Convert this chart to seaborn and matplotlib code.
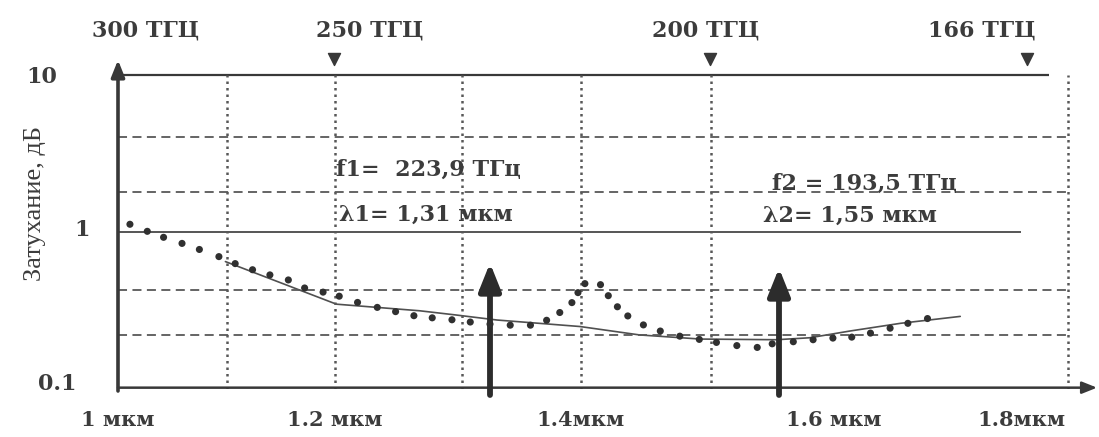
import numpy as np
import matplotlib
matplotlib.use("Agg")
import matplotlib.pyplot as plt
from matplotlib.ticker import NullLocator
import seaborn as sns

# ---------------- data ----------------
meas_wl = [1.011, 1.027, 1.042, 1.059, 1.075, 1.093, 1.108, 1.124, 1.140, 1.157,
           1.172, 1.189, 1.203, 1.216, 1.230, 1.243, 1.256, 1.269, 1.283, 1.296,
           1.310, 1.330, 1.350, 1.366, 1.379, 1.391, 1.397, 1.403, 1.415, 1.421,
           1.428, 1.436, 1.448, 1.461, 1.476, 1.491, 1.504, 1.519, 1.534, 1.545,
           1.563, 1.581, 1.599, 1.619, 1.639, 1.660, 1.679, 1.700]
meas_db = [1.12, 1.01, 0.925, 0.846, 0.774, 0.697, 0.629, 0.575, 0.533, 0.495,
           0.440, 0.414, 0.390, 0.356, 0.331, 0.311, 0.293, 0.284, 0.276, 0.267,
           0.259, 0.255, 0.255, 0.274, 0.307, 0.355, 0.411, 0.469, 0.462, 0.393,
           0.334, 0.292, 0.256, 0.234, 0.217, 0.207, 0.198, 0.189, 0.184, 0.194,
           0.200, 0.206, 0.211, 0.214, 0.227, 0.244, 0.262, 0.281]

fit_wl = [1.099, 1.201, 1.260, 1.286, 1.317, 1.399, 1.445, 1.492, 1.548,
          1.578, 1.617, 1.671, 1.735]
fit_db = [0.648, 0.347, 0.315, 0.296, 0.275, 0.250, 0.221, 0.208, 0.206,
          0.212, 0.234, 0.262, 0.290]

sel_wl = [1.31, 1.55]
sel_top_db = [0.635, 0.59]
sel_f_labels = ["f1=  223,9 ТГц", "f2 = 193,5 ТГц"]
sel_l_labels = ["λ1= 1,31 мкм", "λ2= 1,55 мкм"]

freq_thz = [300, 250, 200, 166]
freq_labels = ["300 ТГЦ", "250 ТГЦ", "200 ТГЦ", "166 ТГЦ"]

wl_ticks = [1.0, 1.2, 1.4, 1.6, 1.8]
wl_tick_labels = ["1 мкм", "1.2 мкм", "1.4мкм", "1.6 мкм", "1.8мкм"]
db_ticks = [10, 1, 0.1]
db_tick_labels = ["10", "1", "0.1"]

grid_wl = [1.1, 1.2, 1.29, 1.4, 1.5, 1.85]
grid_db_dashed = [4.0, 1.8, 0.43, 0.22]
y_label = "Затухание, дБ"

# ---------------- layout / style ----------------
# hand-drawn (non-linear) wavelength axis: anchor wavelengths -> pixel positions
LAM_ANCHOR = np.array([0.5, 1.0, 1.2, 1.31, 1.4, 1.5, 1.55, 1.6, 1.8, 2.5])
PX_ANCHOR = np.array([-424.5, 118, 335, 490, 581, 711, 779, 834, 1021, 1675.5])


def fwd(x):
    return np.interp(np.asarray(x, dtype=float), LAM_ANCHOR, PX_ANCHOR)


def inv(p):
    return np.interp(np.asarray(p, dtype=float), PX_ANCHOR, LAM_ANCHOR)


INK = "#383838"
GRID = "#585858"
TXT = "#3c3c3c"
FS = 16

sns.set_theme(style="white")
plt.rcParams["font.family"] = ["DejaVu Serif", "DejaVu Sans"]

W, H = 1099, 437
fig = plt.figure(figsize=(W / 100, H / 100), dpi=100)
ax = fig.add_axes([118 / W, (H - 389) / H, (W - 118) / W, 334 / H])
ax.set_xscale("function", functions=(fwd, inv))
ax.set_yscale("log")

# curves
sns.lineplot(x=fit_wl, y=fit_db, ax=ax, color="#505050", lw=1.2, sort=False)
sns.scatterplot(x=meas_wl, y=meas_db, ax=ax, color="#303030", s=26,
                edgecolor="none", zorder=4)

ax.set_xlim(1.0, float(inv(W)))
ax.set_ylim(0.1, 10 ** (-1 + 334 / 157))

# frame lines
ax.hlines(10, 1.0, 1.83, color=INK, lw=1.6)
ax.hlines(1, 1.0, 1.80, color=INK, lw=1.2)
ax.hlines(grid_db_dashed, 1.0, 1.85, colors=GRID, lw=1.3, linestyles=(0, (5, 3)))
ax.vlines(grid_wl, 0.1, 10, colors=GRID, lw=1.8, linestyles=(0, (1, 1.6)))

# axes with arrows
ax.annotate("", xy=(0, 0.985), xytext=(0, -0.006), xycoords="axes fraction",
            arrowprops=dict(arrowstyle="-|>,head_length=0.5,head_width=0.2",
                            mutation_scale=20, lw=2.6, color=INK,
                            shrinkA=0, shrinkB=0))
ax.annotate("", xy=(0.998, 0.004), xytext=(0, 0.004), xycoords="axes fraction",
            arrowprops=dict(arrowstyle="-|>,head_length=0.5,head_width=0.2",
                            mutation_scale=18, lw=1.8, color=INK,
                            shrinkA=0, shrinkB=0))

# selected wavelength arrows and labels
f_off = [(-62, 62), (85, 48)]
l_off = [(-64, 17), (71, 16)]
for wl, top, fl, ll, fo, lo in zip(sel_wl, sel_top_db, sel_f_labels,
                                   sel_l_labels, f_off, l_off):
    ax.annotate("", xy=(wl, top), xytext=(wl, 0.0916),
                arrowprops=dict(arrowstyle="-|>,head_length=0.75,head_width=0.3",
                                mutation_scale=22, lw=4.2, color="#2c2c2c",
                                shrinkA=0, shrinkB=0))
    ax.annotate(fl, xy=(wl, 1), xytext=fo, textcoords="offset pixels",
                ha="center", va="center", fontsize=FS, fontweight="bold",
                color=TXT)
    ax.annotate(ll, xy=(wl, 1), xytext=lo, textcoords="offset pixels",
                ha="center", va="center", fontsize=FS, fontweight="bold",
                color=TXT)

# frequency scale on top
freq_wl = [299.792458 / f for f in freq_thz]
ax.scatter(freq_wl[1:], [12.6] * 3, marker="v", s=75, color=INK,
           clip_on=False, zorder=5)
freq_dx = [28, 36, -4, -45]
for wl, lab, dx in zip(freq_wl, freq_labels, freq_dx):
    ax.annotate(lab, xy=(wl, 1.072), xycoords=("data", "axes fraction"),
                xytext=(dx, 0), textcoords="offset pixels", ha="center",
                va="center", fontsize=FS, fontweight="bold", color=TXT,
                annotation_clip=False)

# attenuation labels
db_off = [(-76, -2), (-36, 2), (-61, 5)]
for v, lab, (dx, dy) in zip(db_ticks, db_tick_labels, db_off):
    ax.annotate(lab, xy=(0, v), xycoords=("axes fraction", "data"),
                xytext=(dx, dy), textcoords="offset pixels", ha="center",
                va="center", fontsize=FS, fontweight="bold", color=TXT,
                annotation_clip=False)

ax.set_yticks([])
ax.yaxis.set_minor_locator(NullLocator())
ax.set_xticks(wl_ticks, wl_tick_labels)
ax.xaxis.set_minor_locator(NullLocator())
ax.tick_params(axis="x", length=0, pad=15, labelsize=15, colors=TXT)
for lbl in ax.get_xticklabels():
    lbl.set_fontweight("bold")

ax.set_ylabel(y_label, family=["Liberation Serif", "DejaVu Serif"],
              fontsize=19, color=TXT)
ax.yaxis.set_label_coords(-0.073, 0.554)

for s in ax.spines.values():
    s.set_visible(False)
ax.set_facecolor("white")
ax.grid(False)

fig.savefig("out.png", dpi=100, facecolor="white")
